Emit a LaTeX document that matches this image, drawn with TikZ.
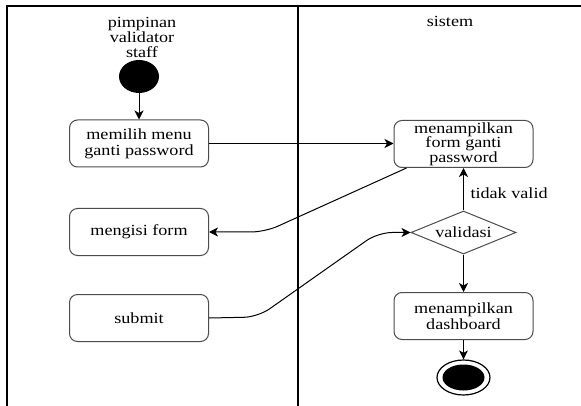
\documentclass[tikz,border=0pt]{standalone}
\usepackage{fontspec}
\setmainfont{Liberation Serif}[FakeStretch=1.17]
\usetikzlibrary{shapes.geometric,arrows.meta}
\begin{document}
\begin{tikzpicture}[x=1pt,y=-1pt,
  font=\fontsize{15.5}{15.7}\selectfont,
  lane/.style={line width=1.4pt, black},
  activity/.style={draw=black!70, line width=1pt, rounded corners=8pt,
    minimum width=139pt, minimum height=47pt, align=center, inner sep=0pt},
  decision/.style={draw=black!70, line width=1pt, diamond, aspect=2.44,
    minimum width=105pt, minimum height=43pt, inner sep=0pt},
  flow/.style={line width=1pt, -{Stealth[length=9pt,width=9pt,inset=2.5pt]}},
]
\useasboundingbox (0,0) rectangle (581,406);
\fill[white] (0,0) rectangle (581,406);

% swimlanes
\draw[lane] (581,6) -- (7,6) -- (7,406);
\draw[lane] (298,6) -- (298,406);
\node[align=center, font=\fontsize{15.5}{15}\selectfont] (actor) at (142,37) {pimpinan\\validator\\staff};
\node (sys) at (450,21) {sistem};

% user lane
\node[ellipse, fill=black, minimum width=40pt, minimum height=33pt, inner sep=0pt] (start) at (139,76.5) {};
\node[activity] (menu) at (139,143.5) {memilih menu\\ganti password};
\node[activity] (isi) at (139,232) {mengisi form};
\node[activity] (submit) at (139,318) {submit};

% system lane
\node[activity, font=\fontsize{15.5}{14.7}\selectfont] (form) at (463.5,144) {menampilkan\\form ganti\\password};
\node[decision] (valid) at (463.5,232.5) {validasi};
\node[activity] (dash) at (463.5,316) {menampilkan\\dashboard};
\node[ellipse, draw, line width=1.2pt, minimum width=53pt, minimum height=35pt, inner sep=0pt] (end) at (463.5,377.5) {};
\node[ellipse, fill=black, minimum width=42pt, minimum height=26pt, inner sep=0pt] (endcore) at (end.center) {};

% bends
\coordinate (bendA) at (265,232);
\coordinate (bendB) at (258,317);
\coordinate (bendC) at (378,232.5);

% flows
\draw[flow] (start) -- (menu);
\draw[flow] (menu.east) -- (menu.east -| form.west);
\draw[flow, rounded corners=14pt] ([xshift=13pt]form.south west) -- (bendA) -- (isi.east);
\draw[flow, rounded corners=14pt] (submit.east) -- (bendB) -- (bendC) -- (valid.west);
\draw[flow] (valid.north) -- (form.south);
\node[anchor=west] (lbl) at (467,193) {tidak valid};
\draw[flow] (valid.south) -- (dash.north);
\draw[flow] (dash.south) -- (end.north);
\end{tikzpicture}
\end{document}
